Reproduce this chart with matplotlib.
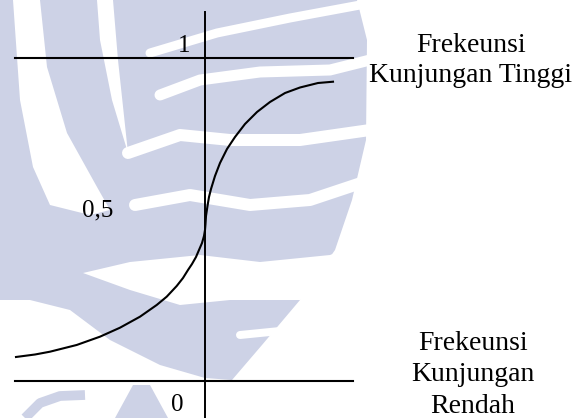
import matplotlib
matplotlib.use("Agg")
import matplotlib.pyplot as plt

# =========================
# Data
# =========================
curve_x = [-1.89, -1.70, -1.55, -1.283, -1.05, -0.85, -0.65, -0.483, -0.383,
           -0.283, -0.22, -0.17, -0.13, -0.09, -0.06, -0.03, -0.01, 0.0,
           0.005, 0.01, 0.025, 0.04, 0.06, 0.10, 0.15, 0.22, 0.30, 0.40,
           0.52, 0.65, 0.80, 0.95, 1.13, 1.28]
curve_y = [0.0743, 0.0820, 0.0907, 0.1115, 0.1372, 0.1650, 0.1991, 0.2353,
           0.2610, 0.2941, 0.3189, 0.3437, 0.3622, 0.3839, 0.4056, 0.4272,
           0.4489, 0.4675, 0.4861, 0.5108, 0.5418, 0.5697, 0.5944, 0.6347,
           0.6749, 0.7183, 0.7554, 0.7957, 0.8328, 0.8638, 0.8916, 0.9087,
           0.9226, 0.9266]

level_values = [0, 1]
level_labels = ["0", "0,5", "1"]
high_label = ["Frekeunsi", "Kunjungan Tinggi"]
low_label = ["Frekeunsi", "Kunjungan", "Rendah"]

lavender = "#cdd2e6"

fig = plt.figure(figsize=(5.79, 4.18), dpi=100)

# =========================
# Watermark (pixel coords)
# =========================
bg = fig.add_axes([0, 0, 1, 1])
bg.set_xlim(0, 579)
bg.set_ylim(418, 0)
bg.axis("off")

plume = [(0, 0), (357, 0), (367, 40), (366, 140), (352, 200), (335, 250),
         (300, 300), (262, 345), (232, 380), (205, 378), (160, 365),
         (110, 340), (70, 310), (30, 300), (0, 300)]
bg.fill(*zip(*plume), color=lavender, lw=0)

white_polys = [
    [(13, 0), (40, 0), (47, 67), (67, 133), (97, 187), (110, 210), (90, 215),
     (50, 205), (33, 167), (20, 100)],
    [(97, 0), (113, 0), (118, 60), (128, 153), (112, 100), (100, 40)],
    [(83, 273), (130, 262), (200, 255), (260, 262), (330, 255), (370, 240),
     (370, 290), (300, 300), (230, 300), (180, 305), (130, 290)],
]
for poly in white_polys:
    bg.fill(*zip(*poly), color="white", lw=0)

bands = [
    ([150, 217, 290, 360], [53, 33, 18, 5], 9),
    ([160, 200, 260, 330, 370], [95, 80, 72, 70, 60], 11),
    ([128, 180, 230, 300, 370], [153, 135, 140, 140, 130], 12),
    ([135, 190, 250, 310, 370], [205, 195, 205, 200, 180], 12),
    ([240, 290, 330], [335, 330, 310], 8),
]
for bx, by, w in bands:
    bg.plot(bx, by, color="white", lw=w * 0.72, solid_capstyle="round")

# sisa huruf watermark di bawah
bg.plot([25, 40, 60, 85], [418, 403, 396, 395], color=lavender, lw=7,
        solid_capstyle="butt")
bg.fill([115, 133, 150, 168], [418, 385, 385, 418], color=lavender, lw=0)

# =========================
# Diagram
# =========================
ax = fig.add_axes([0, 0, 1, 1])
ax.patch.set_alpha(0)
ax.set_xlim(-2.05, 3.74)
ax.set_ylim(-0.1146, 1.1796)
ax.axis("off")

for lv in level_values:
    ax.plot([-1.90, 1.48], [lv, lv], color="black", lw=1.5)
ax.plot([0, 0], [-0.12, 1.142], color="black", lw=1.4)

ax.plot(curve_x, curve_y, color="black", lw=1.5, solid_joinstyle="round")

font = dict(family="Liberation Serif", color="black")
ax.text(-0.275, -0.093, level_labels[0], ha="center", va="baseline",
        fontsize=18, **font)
ax.text(-1.07, 0.508, level_labels[1], ha="center", va="baseline",
        fontsize=18, **font)
ax.text(-0.21, 1.019, level_labels[2], ha="center", va="baseline",
        fontsize=18, **font)

for i, t in enumerate(high_label):
    ax.text(2.66, (381 - 51.7 - 30.5 * i) / 323, t, ha="center",
            va="baseline", fontsize=20, **font)
for i, t in enumerate(low_label):
    ax.text(2.68, (381 - 350 - 31.5 * i) / 323, t, ha="center",
            va="baseline", fontsize=20, **font)

plt.savefig("out.png", dpi=100)
plt.close()
